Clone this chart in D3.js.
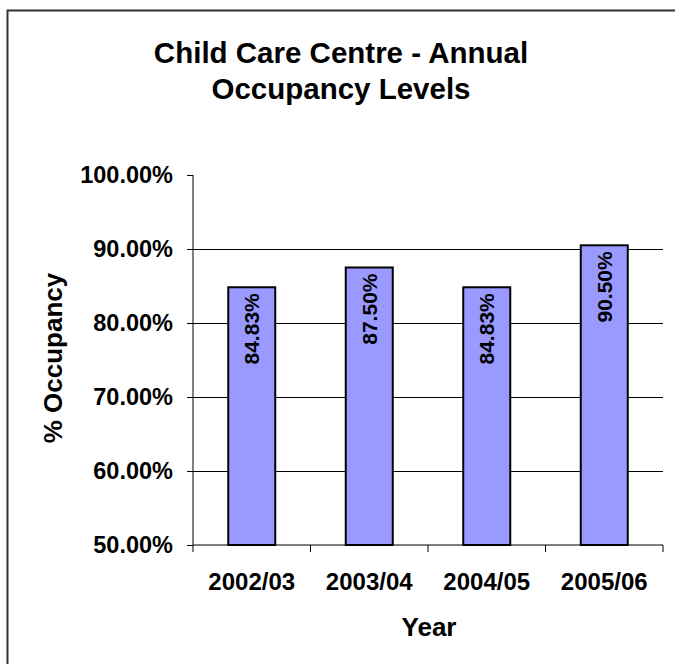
<!DOCTYPE html>
<html><head><meta charset="utf-8">
<script src="https://cdn.jsdelivr.net/npm/d3@7"></script>
<style>body{margin:0;background:#fff}svg{display:block;font-family:"Liberation Sans",Arial,sans-serif}</style>
</head><body><svg id="c" width="675" height="664"></svg>
<script>
const categories = ["2002/03","2003/04","2004/05","2005/06"];
const occupancy = [0.8483, 0.875, 0.8483, 0.905];
const valueLabels = ["84.83%","87.50%","84.83%","90.50%"];
const yTicks = [0.5,0.6,0.7,0.8,0.9,1.0];
const titleLines = ["Child Care Centre - Annual","Occupancy Levels"];

const svg = d3.select("#c");
const L=193, R=663, T=175, B=545;
svg.append("rect").attr("x",7.5).attr("y",10.5).attr("width",700).attr("height",700)
  .attr("fill","#fff").attr("stroke","#333").attr("stroke-width",2);

const x = d3.scaleBand().domain(categories).range([L,R]);
const y = d3.scaleLinear().domain([0.5,1.0]).range([B,T]);

// gridlines
svg.append("g").selectAll("line").data(yTicks.filter(d=>d>0.5&&d<1.0)).join("line")
  .attr("x1",L).attr("x2",R).attr("y1",d=>y(d)).attr("y2",d=>y(d))
  .attr("stroke","#000").attr("stroke-width",1).attr("shape-rendering","crispEdges");

// bars
const bw = x.bandwidth()*0.4;
svg.append("g").selectAll("rect").data(occupancy).join("rect")
  .attr("x",(d,i)=>x(categories[i])+x.bandwidth()/2-bw/2)
  .attr("y",d=>y(d)).attr("width",bw).attr("height",d=>B-y(d))
  .attr("fill","#9999FF").attr("stroke","#000").attr("stroke-width",2);

// data labels
svg.append("g").selectAll("text").data(occupancy).join("text")
  .attr("transform",(d,i)=>`translate(${x(categories[i])+x.bandwidth()/2+7.5},${y(d)+6}) rotate(-90)`)
  .attr("text-anchor","end").attr("font-size",21).attr("font-weight","bold")
  .text((d,i)=>valueLabels[i]);

// y axis
const ya = d3.axisLeft(y).tickValues(yTicks).tickSize(6).tickFormat(d3.format(".2%"));
const gy = svg.append("g").attr("transform",`translate(${L},0)`).call(ya);
gy.select(".domain").attr("d",`M0,${T}V${B}`).attr("stroke","#000");
gy.selectAll("text").attr("font-size",23.5).attr("font-weight","bold").attr("fill","#000")
  .attr("font-family","Liberation Sans, Arial, sans-serif").attr("x",-20);

// x axis
const gx = svg.append("g").attr("transform",`translate(0,${B})`);
gx.append("line").attr("x1",L).attr("x2",R).attr("stroke","#000").attr("stroke-width",1);
const bounds = categories.map(c=>x(c)).concat([R]);
gx.selectAll("line.t").data(bounds).join("line").attr("class","t")
  .attr("x1",d=>d).attr("x2",d=>d).attr("y1",0).attr("y2",7).attr("stroke","#000");
gx.selectAll("text").data(categories).join("text")
  .attr("x",d=>x(d)+x.bandwidth()/2).attr("y",45).attr("text-anchor","middle")
  .attr("font-size",24).attr("font-weight","bold").text(d=>d);

// titles
svg.append("g").selectAll("text").data(titleLines).join("text")
  .attr("x",341).attr("y",(d,i)=>63+i*36).attr("text-anchor","middle")
  .attr("font-size",29.5).attr("font-weight","bold").text(d=>d);
svg.append("text").attr("x",429).attr("y",636).attr("text-anchor","middle")
  .attr("font-size",26).attr("font-weight","bold").text("Year");
svg.append("text").attr("transform","translate(62,358) rotate(-90)").attr("text-anchor","middle")
  .attr("font-size",26).attr("font-weight","bold").text("% Occupancy");
</script></body></html>
